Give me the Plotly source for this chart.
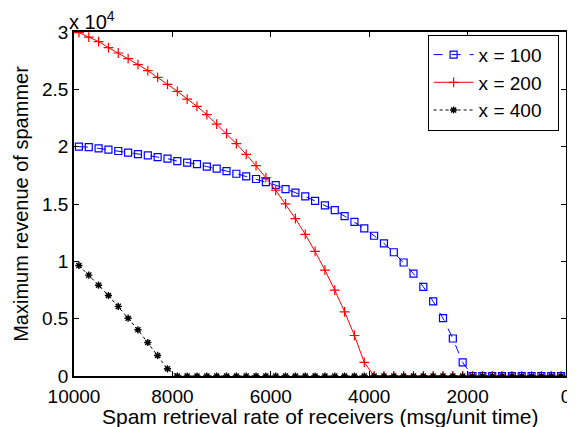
import plotly.graph_objects as go

# Data
rate = [9900 - 200 * i for i in range(50)]

rev_x100 = [20000, 19960, 19850, 19740, 19620, 19480, 19350, 19240, 19090, 18950,
            18740, 18600, 18480, 18260, 18080, 17870, 17640, 17410, 17180, 16910,
            16640, 16290, 15990, 15660, 15270, 14880, 14460, 13940, 13440, 12880,
            12230, 11560, 10790, 9900, 8920, 7780, 6500, 5040, 3270, 1180] + [0] * 10

rev_x200 = [29950, 29560, 29160, 28640, 28170, 27680, 27160, 26630, 26050, 25440,
            24830, 24150, 23520, 22790, 21970, 21150, 20260, 19330, 18340, 17300,
            16200, 15010, 13720, 12350, 10860, 9230, 7490, 5600, 3530, 1180] + [0] * 20

rev_x400 = [9640, 8800, 7920, 7020, 6070, 5040, 4030, 2920, 1790, 630] + [0] * 40

x_ticks = [10000, 8000, 6000, 4000, 2000, 0]
y_ticks = [0, 5000, 10000, 15000, 20000, 25000, 30000]
y_ticktext = ["0", "0.5", "1", "1.5", "2", "2.5", "3"]

FONT = "Liberation Sans, Arial, Helvetica, sans-serif"
PAD = "\u00a0\u00a0"

fig = go.Figure()
fig.add_trace(go.Scatter(
    x=rate, y=rev_x100, name="x = 100" + PAD, mode="lines+markers",
    line=dict(color="blue", width=1, dash="dash"),
    marker=dict(symbol="square-open", size=7, color="blue", line=dict(width=1.2, color="blue")),
))
fig.add_trace(go.Scatter(
    x=rate, y=rev_x200, name="x = 200" + PAD, mode="lines+markers",
    line=dict(color="red", width=1),
    marker=dict(symbol="cross-thin-open", size=7, color="red", line=dict(width=1.2, color="red")),
))
fig.add_trace(go.Scatter(
    x=rate, y=rev_x400, name="x = 400" + PAD, mode="lines+markers",
    line=dict(color="black", width=1, dash="dot"),
    marker=dict(symbol="asterisk-open", size=6, color="black", line=dict(width=1.4, color="black")),
))

axis_common = dict(
    showgrid=False, zeroline=False, showline=True, linecolor="black", linewidth=1.5,
    mirror="ticks", ticks="inside", ticklen=5, tickcolor="black",
    tickfont=dict(family=FONT, size=19, color="black"),
)

fig.update_xaxes(
    range=[10000, 0], tickvals=x_ticks, ticktext=[str(v) for v in x_ticks],
    ticklabelstandoff=2,
    **axis_common,
)
fig.update_yaxes(
    range=[0, 30000], tickvals=y_ticks, ticktext=y_ticktext,
    title=dict(text="Maximum revenue of spammer",
               font=dict(family=FONT, size=20, color="black"), standoff=8),
    **axis_common,
)

# x-axis title placed just below the tick labels
fig.add_annotation(
    x=0.5, y=0, xref="paper", yref="paper", xanchor="center", yanchor="middle",
    text="Spam retrieval rate of receivers (msg/unit time)", showarrow=False,
    yshift=-40, font=dict(family=FONT, size=21, color="black"),
)

fig.add_annotation(
    x=0, y=1, xref="paper", yref="paper", xanchor="left", yanchor="bottom",
    text="x 10<sup>4</sup>", showarrow=False, yshift=-3, xshift=-7,
    font=dict(family=FONT, size=20, color="black"),
)

# the page body adds an 8px offset; margins compensate so the plot area sits
# where the reference has it
fig.update_layout(
    width=575, height=427,
    margin=dict(l=59, r=13, t=24, b=59),
    paper_bgcolor="white", plot_bgcolor="white",
    showlegend=True,
    legend=dict(
        x=0.985, y=0.992, xanchor="right", yanchor="top",
        bgcolor="white", bordercolor="black", borderwidth=1,
        font=dict(family=FONT, size=19, color="black"),
        tracegroupgap=0, itemwidth=40,
    ),
)

fig.write_html("out.html")
